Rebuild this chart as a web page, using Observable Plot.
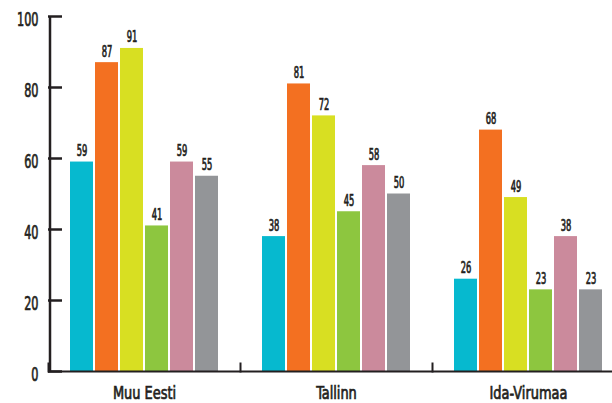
<!DOCTYPE html>
<html>
<head>
<meta charset="utf-8">
<script src="https://cdn.jsdelivr.net/npm/d3@7"></script>
<script src="https://cdn.jsdelivr.net/npm/@observablehq/plot@0.6"></script>
<style>
  html, body { margin: 0; padding: 0; background: #fff; }
</style>
</head>
<body>
<div id="chart"></div>
<script>
const groups = ["Muu Eesti", "Tallinn", "Ida-Virumaa"];
const series = ["A", "B", "C", "D", "E", "F"];
const colors = ["#06b9cf", "#f37021", "#d8df22", "#8dc63f", "#cb8a9c", "#939598"];
const muuEesti = [59, 87, 91, 41, 59, 55];
const tallinn = [38, 81, 72, 45, 58, 50];
const idaVirumaa = [26, 68, 49, 23, 38, 23];
const yTicks = [0, 20, 40, 60, 80, 100];

const valuesByGroup = [muuEesti, tallinn, idaVirumaa];
const data = groups.flatMap((g, gi) => series.map((s, si) => ({group: g, series: s, value: valuesByGroup[gi][si]})));

const ink = "#231f20";
const chart = Plot.plot({
  width: 612,
  height: 403,
  marginTop: 16,
  marginBottom: 32,
  marginLeft: 48,
  marginRight: 0,
  style: {fontFamily: "'DejaVu Sans Condensed', 'DejaVu Sans', sans-serif", fontSize: "16px", color: ink, background: "#fff"},
  fx: {domain: groups, range: [48, 624], padding: 0, label: null},
  x: {domain: series, paddingInner: 0.0625, paddingOuter: 0.78, axis: null},
  y: {domain: [0, 100], axis: null},
  color: {domain: series, range: colors},
  marks: [
    Plot.barY(data, {fx: "group", x: "series", y: "value", fill: "series"}),
    Plot.text(data, {fx: "group", x: "series", y: "value", text: d => String(d.value), dy: -6, lineAnchor: "bottom", fontSize: 15, fill: ink}),
    Plot.ruleY([0], {stroke: ink, strokeWidth: 2.2}),
    Plot.frame({anchor: "left", insetTop: 347, stroke: ink, strokeWidth: 2}),
    Plot.ruleX([{group: groups[0], series: series[0]}], {fx: "group", x: "series", dx: -32, y1: 0, y2: 100, stroke: ink, strokeWidth: 2.5}),
    Plot.axisY({ticks: yTicks, tickSize: -14, text: null, strokeWidth: 2.5, label: null}),
    Plot.axisY({ticks: yTicks, tickSize: 0, tickPadding: 10, fontSize: 19, dy: 3, label: null}),
    Plot.axisFx({anchor: "bottom", tickSize: 0, tickPadding: 15, fontSize: 18, label: null})
  ]
});
document.getElementById("chart").appendChild(chart);

// condense (and slightly embolden) the lettering to mimic the narrow typeface of the reference
const squeeze = [["y-axis tick label", 0.66], ["fx-axis tick label", 0.8], ["text", 0.62]];
for (const [label, k] of squeeze) {
  chart.querySelectorAll(`g[aria-label="${label}"] text`).forEach(t => {
    const tr = t.getAttribute("transform");
    if (tr) t.setAttribute("transform", tr + ` scale(${k},1)`);
    t.setAttribute("stroke", ink);
    t.setAttribute("stroke-width", "0.7");
    t.setAttribute("fill", ink);
  });
}
</script>
</body>
</html>
